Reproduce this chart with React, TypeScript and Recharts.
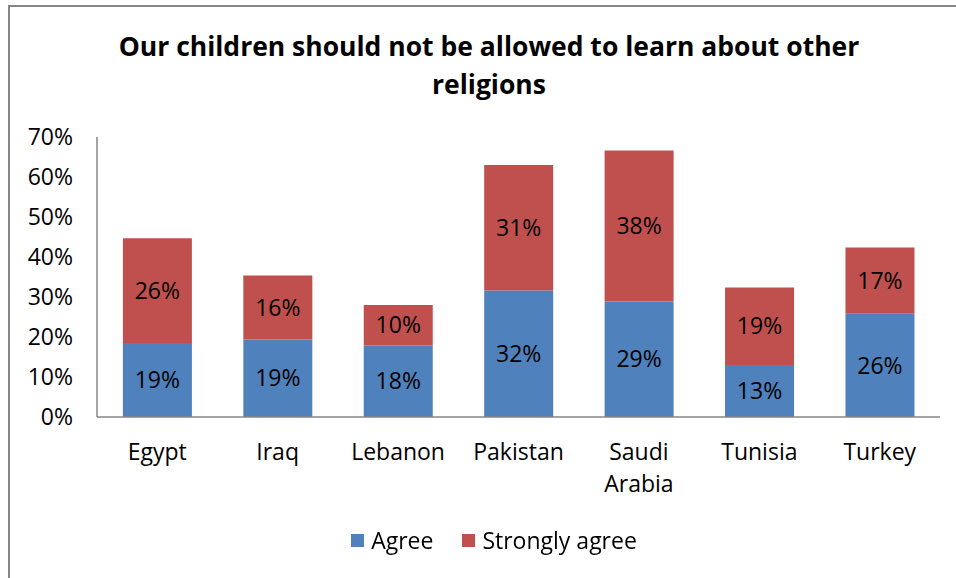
import { Bar, BarChart, LabelList, Legend, XAxis, YAxis } from "recharts";

const COUNTRIES = ["Egypt", "Iraq", "Lebanon", "Pakistan", "Saudi Arabia", "Tunisia", "Turkey"];
const AGREE = [18.5, 19.4, 17.9, 31.6, 28.9, 13.0, 25.8];
const STRONGLY_AGREE = [26.2, 16.0, 10.1, 31.4, 37.7, 19.4, 16.6];
const Y_TICKS = [0, 10, 20, 30, 40, 50, 60, 70];

const BLUE = "#4F81BD";
const RED = "#C0504D";
const AXIS = "#868686";
const FONT = "'Open Sans', sans-serif";

const data = COUNTRIES.map((country, i) => ({
  country,
  agree: AGREE[i],
  strongly: STRONGLY_AGREE[i],
}));

function CountryTick(props: any) {
  const { x, y, payload } = props;
  const words = String(payload.value).split(" ");
  return (
    <text x={x} y={y + 41} textAnchor="middle" fontSize={23} fontFamily={FONT} fill="#000">
      {words.map((w, i) => (
        <tspan key={w} x={x} dy={i === 0 ? 0 : 32}>
          {w}
        </tspan>
      ))}
    </text>
  );
}

function LegendBox() {
  const items = [
    { label: "Agree", color: BLUE },
    { label: "Strongly agree", color: RED },
  ];
  return (
    <div style={{ display: "flex", justifyContent: "center", fontFamily: FONT, fontSize: 23 }}>
      {items.map((it, i) => (
        <div
          key={it.label}
          style={{ display: "flex", alignItems: "center", marginLeft: i === 0 ? 0 : 29 }}
        >
          <span style={{ width: 13, height: 13, background: it.color, marginRight: 7 }} />
          <span>{it.label}</span>
        </div>
      ))}
    </div>
  );
}

const pct = (v: any) => `${Math.round(Number(v))}%`;

export default function App() {
  return (
    <div style={{ position: "fixed", left: 0, top: 0, width: 956, height: 578, background: "#fff" }}>
      <div
        style={{
          position: "absolute",
          left: 8,
          top: 5,
          right: 0,
          bottom: 0,
          borderLeft: `2px solid ${AXIS}`,
          borderTop: `2px solid ${AXIS}`,
        }}
      />
      <div
        style={{
          position: "absolute",
          left: 0,
          top: 27,
          width: 978,
          textAlign: "center",
          fontFamily: FONT,
          fontWeight: 700,
          fontSize: 26.5,
          lineHeight: "38px",
          color: "#000",
        }}
      >
        Our children should not be allowed to learn about other
        <br />
        religions
      </div>
      <div style={{ position: "absolute", left: 0, top: 0 }}>
        <BarChart
          width={956}
          height={578}
          data={data}
          margin={{ top: 137, right: 16, left: 0, bottom: 81 }}
          barCategoryGap="21.5%"
        >
          <YAxis
            width={97}
            domain={[0, 70]}
            ticks={Y_TICKS}
            interval={0}
            tickFormatter={(v) => `${v}%`}
            tick={{ fill: "#000", fontSize: 23, fontFamily: FONT }}
            tickLine={false}
            tickSize={0}
            tickMargin={24}
            axisLine={{ stroke: AXIS, strokeWidth: 1.5 }}
          />
          <XAxis
            dataKey="country"
            height={80}
            interval={0}
            tick={<CountryTick />}
            tickLine={false}
            tickSize={0}
            axisLine={{ stroke: AXIS, strokeWidth: 1.5 }}
          />
          <Legend
            verticalAlign="middle"
            align="center"
            wrapperStyle={{ top: 524, left: 0, width: 988 }}
            content={() => <LegendBox />}
          />
          <Bar dataKey="agree" name="Agree" stackId="a" fill={BLUE} isAnimationActive={false}>
            <LabelList dataKey="agree" position="center" formatter={pct} fill="#000" fontSize={23} fontFamily={FONT} />
          </Bar>
          <Bar dataKey="strongly" name="Strongly agree" stackId="a" fill={RED} isAnimationActive={false}>
            <LabelList dataKey="strongly" position="center" formatter={pct} fill="#000" fontSize={23} fontFamily={FONT} />
          </Bar>
        </BarChart>
      </div>
    </div>
  );
}
